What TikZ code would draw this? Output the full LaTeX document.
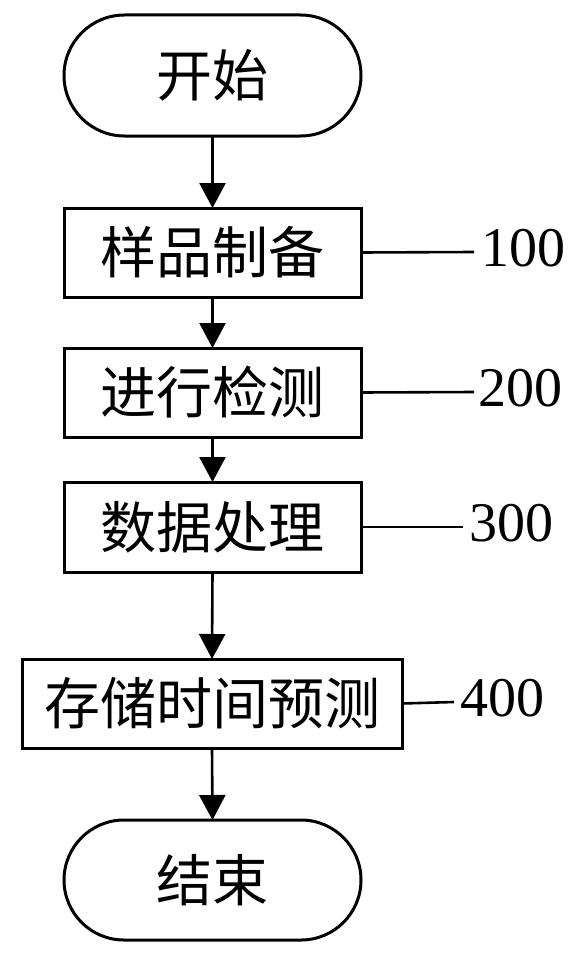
\documentclass[tikz,border=0pt]{standalone}
\usepackage{fontspec}
\setmainfont{Liberation Serif}
\newfontfamily\cjk{Noto Sans CJK SC}
\usetikzlibrary{arrows.meta,shapes.misc}
\begin{document}
\begin{tikzpicture}[x=1pt,y=1pt,
  every node/.style={inner sep=0pt, outer sep=0pt},
  procbox/.style={draw=black, line width=3pt, rectangle, minimum width=297pt, minimum height=89pt, font=\cjk\fontsize{56}{60}\selectfont},
  termbox/.style={draw=black, line width=3pt, rounded rectangle, minimum width=297pt, minimum height=121pt, font=\cjk\fontsize{56}{60}\selectfont},
  arr/.style={line width=2.6pt, -{Triangle[length=25pt,width=26pt]}},
  leader/.style={line width=2.6pt},
  numlabel/.style={anchor=west, font=\fontsize{56}{60}\selectfont}
]
\useasboundingbox (0,0) rectangle (581,-955);
\fill[white] (0,0) rectangle (581,-955);

\node[termbox] (start) at (212.5,-75.5) {开始};
\node[procbox] (b1) at (212.5,-252.5) {样品制备};
\node[procbox] (b2) at (212.5,-392.5) {进行检测};
\node[procbox, minimum height=90pt] (b3) at (212.5,-527) {数据处理};
\node[procbox, minimum width=380pt] (b4) at (212,-703.5) {存储时间预测};
\node[termbox, minimum height=120pt] (end) at (212.5,-880) {结束};

\draw[arr] (start.south) -- (b1.north);
\draw[arr] (b1.south) -- (b2.north);
\draw[arr] (b2.south) -- (b3.north);
\draw[arr] (b3.south) -- (b4.north);
\draw[arr] (b4.south) -- (end.north);

\coordinate (c1) at (474,-252);
\coordinate (c2) at (474,-392);
\coordinate (c3) at (463,-527);
\coordinate (c4) at (454,-702);
\draw[leader] (b1.east) -- (c1);
\draw[leader] (b2.east) -- (c2);
\draw[leader] (b3.east) -- (c3);
\draw[leader] (b4.east) -- (c4);

\node[numlabel] (l1) at (481,-248) {100};
\node[numlabel] (l2) at (478,-388) {200};
\node[numlabel] (l3) at (469,-523) {300};
\node[numlabel] (l4) at (460,-698) {400};
\end{tikzpicture}
\end{document}
